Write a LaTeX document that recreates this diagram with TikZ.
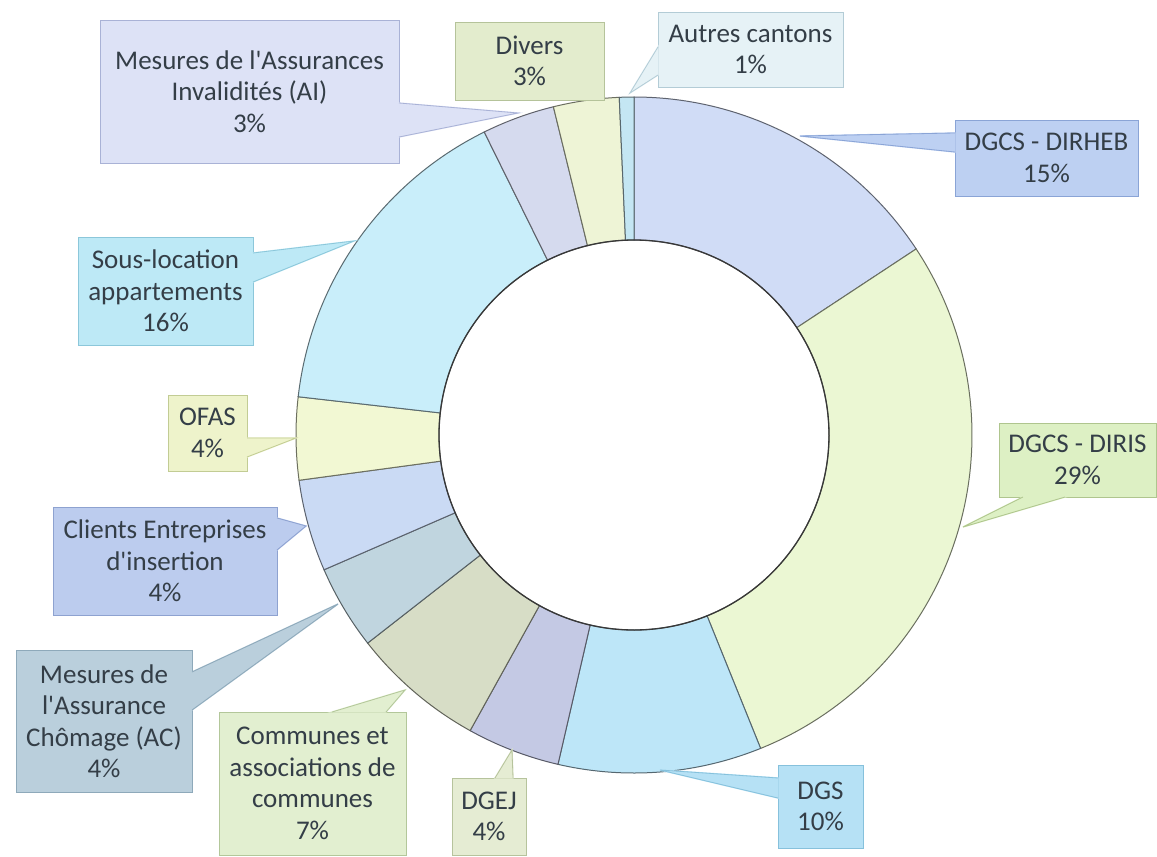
\documentclass[tikz,border=0pt]{standalone}
\usepackage{fontspec}
\setmainfont{Carlito}
\usetikzlibrary{calc}

% slice colours
\definecolor{sHeb}{HTML}{D0DCF6}
\definecolor{sIris}{HTML}{EBF7D3}
\definecolor{sDgs}{HTML}{BDE6F8}
\definecolor{sDgej}{HTML}{C4C9E4}
\definecolor{sCom}{HTML}{D7DDC6}
\definecolor{sAc}{HTML}{C0D5DF}
\definecolor{sCli}{HTML}{CADAF4}
\definecolor{sOfas}{HTML}{F2F8D3}
\definecolor{sSous}{HTML}{C9EEFA}
\definecolor{sAi}{HTML}{D5DAEE}
\definecolor{sDiv}{HTML}{EEF4D6}
\definecolor{sAut}{HTML}{C4E6F3}
% label colours (fill / border)
\definecolor{aiF}{HTML}{DDE2F6}  \definecolor{aiD}{HTML}{A9B2D6}
\definecolor{divF}{HTML}{E3ECCD} \definecolor{divD}{HTML}{B5C39A}
\definecolor{autF}{HTML}{E6F2F6} \definecolor{autD}{HTML}{B3CCD6}
\definecolor{hebF}{HTML}{BDD0F2} \definecolor{hebD}{HTML}{8AA4D6}
\definecolor{irisF}{HTML}{DDF0C4} \definecolor{irisD}{HTML}{AFC58E}
\definecolor{dgsF}{HTML}{B6E1F5} \definecolor{dgsD}{HTML}{86C1DC}
\definecolor{dgejF}{HTML}{E5ECD3} \definecolor{dgejD}{HTML}{B6C39C}
\definecolor{comF}{HTML}{E2EFD0} \definecolor{comD}{HTML}{B3C79A}
\definecolor{acF}{HTML}{BACFDC}  \definecolor{acD}{HTML}{8EA9BA}
\definecolor{cliF}{HTML}{BCCCEE} \definecolor{cliD}{HTML}{8EA2D0}
\definecolor{ofasF}{HTML}{EEF3CB} \definecolor{ofasD}{HTML}{C2CC94}
\definecolor{sousF}{HTML}{BDE9F6} \definecolor{sousD}{HTML}{8CC7DA}
\definecolor{txtgray}{HTML}{343E47}

\newcommand{\apos}{\textquotesingle}

\tikzset{
  lbl/.style={draw, line width=0.8, font=\fontsize{27}{31.5}\selectfont,
    text=txtgray, align=center, inner sep=0, outer sep=0},
  slice/.style={line width=1},
  ptr/.style={line width=0.8}
}

\begin{document}
\begin{tikzpicture}[x=1pt, y=-1pt]
\path[use as bounding box, fill=white] (0,0) rectangle (1157,857);

% ring
\begin{scope}[shift={(634,435)}]
\foreach \a/\b/\c in {-90/-33.4/sHeb, -33.4/68/sIris, 68/103/sDgs, 103/119/sDgej,
    119/142/sCom, 142/156.5/sAc, 156.5/172.3/sCli, 172.3/186.5/sOfas,
    186.5/243.7/sSous, 243.7/256.2/sAi, 256.2/267.5/sDiv, 267.5/270/sAut}
  \filldraw[slice, fill=\c, draw=\c!45!black] (\a:338) arc[start angle=\a, end angle=\b, radius=338]
    -- (\b:195) arc[start angle=\b, end angle=\a, radius=195] -- cycle;
\draw[line width=1.3, black!78] (0,0) circle[radius=195];
\end{scope}

% labels
\node[lbl, fill=aiF, draw=aiD, minimum width=299, minimum height=143] (ai) at (249.5,91.5)
  {Mesures de l\apos Assurances\\Invalidités (AI)\\3\%};
\coordinate (ai-tip) at (518,113);
\filldraw[aiF, line width=1.4] (ai.east |- 0,103) -- (ai-tip) -- (ai.east |- 0,137) -- cycle;
\draw[ptr, aiD] (ai.east |- 0,103) -- (ai-tip) -- (ai.east |- 0,137);

\node[lbl, fill=divF, draw=divD, minimum width=149, minimum height=78] (divers) at (529.5,61)
  {Divers\\3\%};

\node[lbl, fill=autF, draw=autD, minimum width=185, minimum height=75] (autres) at (750.5,49.5)
  {Autres cantons\\1\%};
\coordinate (autres-tip) at (630,93);
\filldraw[autF, line width=1.4] (autres.west |- 0,47) -- (autres-tip) -- (autres.west |- 0,75) -- cycle;
\draw[ptr, autD] (autres.west |- 0,47) -- (autres-tip) -- (autres.west |- 0,75);

\node[lbl, fill=hebF, draw=hebD, minimum width=183, minimum height=76] (dirheb) at (1046.5,158)
  {DGCS - DIRHEB\\15\%};
\coordinate (dirheb-tip) at (800,136);
\filldraw[hebF, line width=1.4] (dirheb.west |- 0,133) -- (dirheb-tip) -- (dirheb.west |- 0,152) -- cycle;
\draw[ptr, hebD] (dirheb.west |- 0,133) -- (dirheb-tip) -- (dirheb.west |- 0,152);

\node[lbl, fill=irisF, draw=irisD, minimum width=157, minimum height=74] (diris) at (1077.5,460)
  {DGCS - DIRIS\\29\%};
\coordinate (diris-tip) at (963,527);
\filldraw[irisF, line width=1.4] (diris.south -| 1023,0) -- (diris-tip) -- (diris.south -| 1065,0) -- cycle;
\draw[ptr, irisD] (diris.south -| 1023,0) -- (diris-tip) -- (diris.south -| 1065,0);

\node[lbl, fill=dgsF, draw=dgsD, minimum width=85, minimum height=83] (dgs) at (820.5,806.5)
  {DGS\\10\%};
\coordinate (dgs-tip) at (660,770);
\filldraw[dgsF, line width=1.4] (dgs.west |- 0,778) -- (dgs-tip) -- (dgs.west |- 0,798) -- cycle;
\draw[ptr, dgsD] (dgs.west |- 0,778) -- (dgs-tip) -- (dgs.west |- 0,798);

\node[lbl, fill=dgejF, draw=dgejD, minimum width=74, minimum height=77] (dgej) at (489,816.5)
  {DGEJ\\4\%};
\coordinate (dgej-tip) at (512,750);
\filldraw[dgejF, line width=1.4] (dgej.north -| 495,0) -- (dgej-tip) -- (dgej.north -| 513,0) -- cycle;
\draw[ptr, dgejD] (dgej.north -| 495,0) -- (dgej-tip) -- (dgej.north -| 513,0);

\node[lbl, fill=comF, draw=comD, minimum width=187, minimum height=143] (communes) at (312.5,783.5)
  {Communes et\\associations de\\communes\\7\%};
\coordinate (communes-tip) at (405,690);
\filldraw[comF, line width=1.4] (communes.north -| 332,0) -- (communes-tip) -- (communes.north -| 386,0) -- cycle;
\draw[ptr, comD] (communes.north -| 332,0) -- (communes-tip) -- (communes.north -| 386,0);

\node[lbl, fill=acF, draw=acD, minimum width=176, minimum height=142] (ac) at (104,721)
  {Mesures de\\l\apos Assurance\\Chômage (AC)\\4\%};
\coordinate (ac-tip) at (338,604);
\filldraw[acF, line width=1.4] (ac.east |- 0,672) -- (ac-tip) -- (ac.east |- 0,710) -- cycle;
\draw[ptr, acD] (ac.east |- 0,672) -- (ac-tip) -- (ac.east |- 0,710);

\node[lbl, fill=cliF, draw=cliD, minimum width=224, minimum height=108] (clients) at (165,561)
  {Clients Entreprises\\d\apos insertion\\4\%};
\coordinate (clients-tip) at (306,526);
\filldraw[cliF, line width=1.4] (clients.east |- 0,518) -- (clients-tip) -- (clients.east |- 0,550) -- cycle;
\draw[ptr, cliD] (clients.east |- 0,518) -- (clients-tip) -- (clients.east |- 0,550);

\node[lbl, fill=ofasF, draw=ofasD, minimum width=79, minimum height=76] (ofas) at (207.5,433)
  {OFAS\\4\%};
\coordinate (ofas-tip) at (296,438);
\filldraw[ofasF, line width=1.4] (ofas.east |- 0,438) -- (ofas-tip) -- (ofas.east |- 0,457) -- cycle;
\draw[ptr, ofasD] (ofas.east |- 0,438) -- (ofas-tip) -- (ofas.east |- 0,457);

\node[lbl, fill=sousF, draw=sousD, minimum width=175, minimum height=108] (sous) at (165.5,291)
  {Sous-location\\appartements\\16\%};
\coordinate (sous-tip) at (354,241);
\filldraw[sousF, line width=1.4] (sous.east |- 0,253) -- (sous-tip) -- (sous.east |- 0,282) -- cycle;
\draw[ptr, sousD] (sous.east |- 0,253) -- (sous-tip) -- (sous.east |- 0,282);
\end{tikzpicture}
\end{document}
